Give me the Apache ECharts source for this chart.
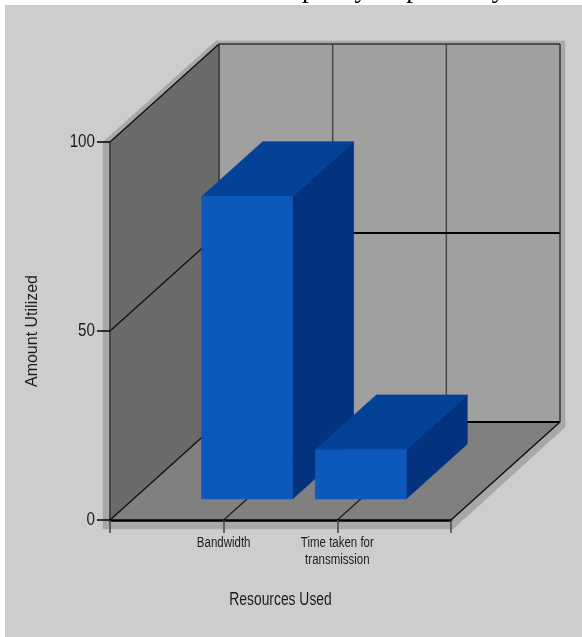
<!DOCTYPE html>
<html>
<head>
<meta charset="utf-8">
<style>html,body{margin:0;padding:0;background:#fff}#chart{width:582px;height:637px}</style>
<script src="https://cdn.jsdelivr.net/npm/echarts@6/dist/echarts.min.js"></script>
</head>
<body>
<div id="chart"></div>
<script>
// Resource usage figure: a pseudo-3D column chart on a boxed wall/floor stage.
const categories = ['', 'Bandwidth', 'Time taken for\ntransmission', ''];
const barCategories = [1, 2];
const barValues = [80, 13];
const yTicks = [0, 50, 100];
const yAxisTitle = 'Amount Utilized';
const xAxisTitle = 'Resources Used';
const captionAbove = 'capacity respectively';

// Oblique projection: pixel shift for the full depth of the box.
const DEPTH_X = 109;
const DEPTH_Y = -98;
// Column footprint, in category widths and fractions of the box depth.
const BAR_WIDTH = 0.8;
const BAR_DEPTH_FRONT = 0.215;
const BAR_DEPTH_BACK = 0.775;

const FONT = '"Liberation Sans", sans-serif';
const TEXT_COLOR = '#1c1c1c';

const shifted = (p, d) => [p[0] + DEPTH_X * d, p[1] + DEPTH_Y * d];

// A thin stroke in the fill colour closes the seams between adjoining faces.
function poly(points, fill) {
  return { type: 'polygon', shape: { points }, style: { fill, stroke: fill, lineWidth: 0.6 } };
}
function line(a, b, stroke, lineWidth) {
  return {
    type: 'line',
    shape: { x1: a[0], y1: a[1], x2: b[0], y2: b[1] },
    style: { stroke, lineWidth, fill: null }
  };
}
// Condensed lettering: no narrow face is available, so the glyphs are squeezed horizontally.
function squeezedText(text, x, y, size, squeeze, align, verticalAlign) {
  return {
    type: 'text',
    x, y,
    scaleX: squeeze,
    style: { text, font: size + 'px ' + FONT, fill: TEXT_COLOR, align, verticalAlign, lineHeight: 17.5 }
  };
}

// Walls, floor and grid lines of the box.
function renderStage(params, api) {
  const xMin = 0, xMax = categories.length - 1;
  const yMin = yTicks[0], yMax = yTicks[yTicks.length - 1];
  const fl = api.coord([xMin, yMin]);
  const fr = api.coord([xMax, yMin]);
  const tl = api.coord([xMin, yMax]);
  const bl = shifted(fl, 1), br = shifted(fr, 1), btl = shifted(tl, 1);
  const btr = [br[0], btl[1]];
  const children = [
    // Pale offset band behind the whole box.
    poly([[tl[0] - 7, tl[1]], [btl[0] - 3, btl[1] - 3], [btr[0] + 5, btr[1] - 3],
          [br[0] + 5, br[1] + 5], [fr[0] + 2, fr[1] + 9], [fl[0] - 7, fl[1] + 9]], '#a8a8a8'),
    poly([bl, br, btr, btl], '#a0a0a0'),
    poly([fl, bl, btl, tl], '#6b6b6b'),
    poly([fl, fr, br, bl], '#808080')
  ];
  for (let i = 1; i < xMax; i++) {
    const p = api.coord([i, yMin]);
    const q = shifted(p, 1);
    children.push(line(p, q, '#1c1c1c', 1.3));
    children.push(line(q, [q[0], btl[1]], '#4a4a4a', 1.5));
  }
  yTicks.forEach(function (v) {
    const p = api.coord([xMin, v]);
    const q = shifted(p, 1);
    children.push(line(p, q, '#111', 1.4));
    children.push(line(q, [br[0], q[1]], v === yMax ? '#333' : '#000', v === yMax ? 1.5 : 2));
  });
  children.push(line(bl, btl, '#333', 1.5));
  children.push(line(br, btr, '#333', 1.5));
  children.push(line(fr, br, '#111', 1.5));
  return { type: 'group', children };
}

// Tick labels and the horizontal axis title, set in condensed lettering at axis positions.
function renderLabels(params, api) {
  const children = [];
  yTicks.forEach(function (v) {
    const p = api.coord([0, v]);
    children.push(squeezedText(String(v), p[0] - 15, p[1] - 0.5, 19, 0.8, 'right', 'middle'));
  });
  categories.forEach(function (name, i) {
    if (!name) return;
    const p = api.coord([i, yTicks[0]]);
    children.push(squeezedText(name, p[0], p[1] + 14, 14, 0.82, 'center', 'top'));
  });
  const left = api.coord([0, yTicks[0]]);
  const right = api.coord([categories.length - 1, yTicks[0]]);
  children.push(squeezedText(xAxisTitle, (left[0] + right[0]) / 2, left[1] + 80, 18, 0.77, 'center', 'middle'));
  return { type: 'group', children };
}

// One column: front face plus the top and side faces receding into the box.
function renderColumn(params, api) {
  const cat = api.value(0);
  const val = api.value(1);
  const origin = api.coord([cat, 0]);
  const top = api.coord([cat, val]);
  // A category axis snaps to whole indices, so half-widths come from its step.
  const step = api.coord([1, 0])[0] - api.coord([0, 0])[0];
  const half = step * BAR_WIDTH / 2;
  const base0 = [origin[0] - half, origin[1]];
  const base1 = [origin[0] + half, origin[1]];
  const top0 = [origin[0] - half, top[1]];
  const top1 = [origin[0] + half, top[1]];
  const a = shifted(base0, BAR_DEPTH_FRONT);
  const b = shifted(base1, BAR_DEPTH_FRONT);
  const c = shifted(top1, BAR_DEPTH_FRONT);
  const d = shifted(top0, BAR_DEPTH_FRONT);
  const bb = shifted(base1, BAR_DEPTH_BACK);
  const bc = shifted(top1, BAR_DEPTH_BACK);
  const bd = shifted(top0, BAR_DEPTH_BACK);
  return {
    type: 'group',
    children: [
      poly([b, bb, bc, c], '#03337f'),
      poly([d, c, bc, bd], '#044298'),
      poly([a, b, c, d], '#0d58bb')
    ]
  };
}

const chart = echarts.init(document.getElementById('chart'), null, { renderer: 'canvas' });
chart.setOption({
  backgroundColor: '#ffffff',
  animation: false,
  graphic: [
    { type: 'text', z: -2, x: 278, y: 3,
      style: { text: captionAbove, font: '27px "Liberation Serif", serif', fill: '#000', verticalAlign: 'bottom' } },
    { type: 'rect', z: -1, shape: { x: 5, y: 5, width: 577, height: 632 }, style: { fill: '#cdcdcd' } }
  ],
  grid: { left: 110, right: 131, top: 142, bottom: 117 },
  xAxis: {
    type: 'category',
    data: categories,
    boundaryGap: false,
    z: 10,
    axisLine: { show: true, lineStyle: { color: '#000', width: 2.5 } },
    axisTick: { show: true, alignWithLabel: true, length: 13, lineStyle: { color: '#444', width: 1.5 } },
    axisLabel: { show: false },
    splitLine: { show: false }
  },
  yAxis: {
    type: 'value',
    min: yTicks[0],
    max: yTicks[yTicks.length - 1],
    interval: yTicks[1] - yTicks[0],
    z: 9,
    name: yAxisTitle,
    nameLocation: 'middle',
    nameGap: 69,
    nameTextStyle: { fontFamily: FONT, fontSize: 16, color: TEXT_COLOR },
    axisLine: { show: true, lineStyle: { color: '#333', width: 1.5 } },
    axisTick: { show: true, length: 13, lineStyle: { color: '#000', width: 1.5 } },
    axisLabel: { show: false },
    splitLine: { show: false }
  },
  series: [
    {
      type: 'custom',
      coordinateSystem: 'cartesian2d',
      clip: false,
      silent: true,
      z: 1,
      data: [[0, 0]],
      renderItem: renderStage
    },
    {
      type: 'custom',
      coordinateSystem: 'cartesian2d',
      clip: false,
      z: 3,
      encode: { x: 0, y: 1 },
      data: barCategories.map((c, i) => [c, barValues[i]]),
      renderItem: renderColumn
    },
    {
      type: 'custom',
      coordinateSystem: 'cartesian2d',
      clip: false,
      silent: true,
      z: 4,
      data: [[0, 0]],
      renderItem: renderLabels
    }
  ]
});
</script>
</body>
</html>
